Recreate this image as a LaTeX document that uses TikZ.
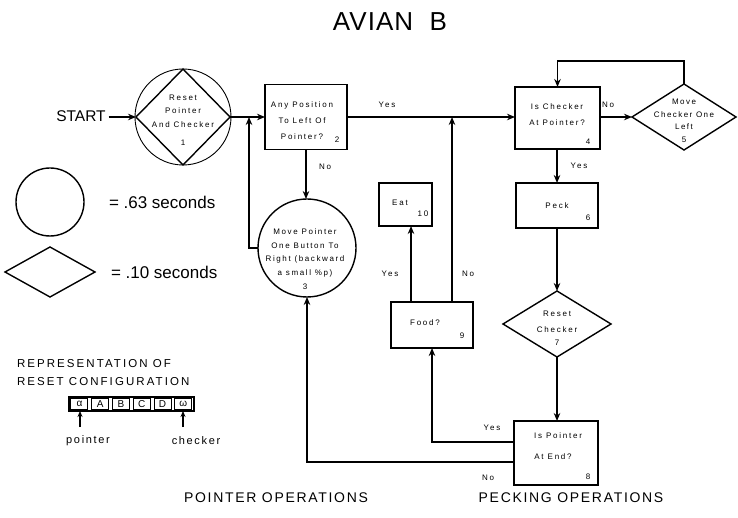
\documentclass[tikz,border=0pt]{standalone}
\usepackage{fontspec}
\usepackage{graphicx}
\setmainfont{Liberation Sans}
\usetikzlibrary{shapes.geometric,arrows.meta}
\begin{document}
\begin{tikzpicture}[x=1pt,y=-1pt,
  every node/.style={inner sep=0pt,outer sep=0pt},
  ln/.style={line width=1.4pt},
  arr/.style={ln,-{Stealth[length=8pt,width=6.5pt]}},
  sarr/.style={line width=1.1pt,-{Stealth[length=6pt,width=5pt]}},
  box/.style={draw,ln,rectangle},
  tx/.style={font=\fontsize{8}{14}\selectfont\addfontfeatures{LetterSpace=22},align=center},
  lb/.style={font=\fontsize{8}{9}\selectfont\addfontfeatures{LetterSpace=22}},
  lgt/.style={font=\fontsize{17}{20}\selectfont},
  capt/.style={font=\fontsize{11.5}{14}\selectfont\addfontfeatures{LetterSpace=18}},
  bot/.style={font=\fontsize{14}{16}\selectfont\addfontfeatures{LetterSpace=12}},
  cell/.style={draw,line width=1pt,minimum width=17pt,minimum height=11pt,font=\fontsize{10}{12}\selectfont}
]
\useasboundingbox (0,0) rectangle (738,518);

% title
\node[font=\fontsize{26}{30}\selectfont\addfontfeatures{LetterSpace=4}] (title) at (390,22) {AVIAN\ \ B};

% start and reset
\node[font=\fontsize{15.5}{18}\selectfont] (start) at (81,116) {START};
\node[circle,draw,line width=0.9pt,minimum size=96pt] (c1) at (183,117) {};
\node[diamond,draw,ln,minimum width=94pt,minimum height=96pt] (d1) at (183,117) {};
\node[tx,font=\fontsize{8}{13.5}\selectfont\addfontfeatures{LetterSpace=22}] (t1) at (183,111) {Reset\\Pointer\\And Checker};
\node[tx] (n1) at (183,143) {1};
\draw[arr] ([xshift=3pt]start.east |- d1.west) -- (d1.west);

% box 2
\node[box,minimum width=82pt,minimum height=65pt] (b2) at (306,117) {};
\node[tx,font=\fontsize{8}{16}\selectfont\addfontfeatures{LetterSpace=22}] (t2) at (302,121) {Any Position\\To Left Of\\Pointer?};
\node[tx] (n2) at (337,140) {2};
\coordinate (j1) at (249,117);
\draw[arr] (d1.east) -- (b2.west);

% circle 3
\node[circle,draw,ln,minimum size=98pt] (c3) at (307,248) {};
\node[tx,font=\fontsize{8}{13.8}\selectfont\addfontfeatures{LetterSpace=20}] (t3) at (305,259) {Move Pointer\\One Button To\\Right (backward\\a small \%p)\\3};
\draw[arr] (b2.south) -- (b2.south |- c3.north);
\node[lb] (no1) at (325,167) {No};
\draw[arr] (c3.west) -- (c3.west -| j1) -- (j1);

% box 4
\node[box,minimum width=85pt,minimum height=62pt] (b4) at (557.5,118) {};
\node[tx,font=\fontsize{8}{16}\selectfont\addfontfeatures{LetterSpace=22}] (t4) at (557,115) {Is Checker\\At Pointer?};
\node[tx] (n4) at (588,142) {4};
\draw[arr] (b2.east) -- (b2.east -| b4.west);
\node[lb] (yes1) at (387,105) {Yes};
\coordinate (j2) at (452,117);

% diamond 5
\node[diamond,draw,ln,minimum width=104pt,minimum height=66pt] (d5) at (684,117) {};
\node[tx,font=\fontsize{8}{12.5}\selectfont\addfontfeatures{LetterSpace=18}] (t5) at (684,121) {Move\\Checker One\\Left\\5};
\draw[arr] (b4.east |- d5.west) -- (d5.west);
\node[lb] (no2) at (608,105) {No};
\coordinate (tl) at (684,61);
\draw[arr] (d5.north) -- (tl) -| (b4.north);

% box 6
\node[box,minimum width=82pt,minimum height=45pt] (b6) at (557,205.5) {};
\node[tx] (t6) at (557,206) {Peck};
\node[tx] (n6) at (588,218) {6};
\draw[arr] (b4.south -| b6.north) -- (b6.north);
\node[lb] (yes2) at (579,166) {Yes};

% diamond 7
\node[diamond,draw,ln,minimum width=108pt,minimum height=66pt] (d7) at (557,324) {};
\node[tx,font=\fontsize{8}{16}\selectfont\addfontfeatures{LetterSpace=22}] (t7) at (557,322) {Reset\\Checker};
\node[tx] (n7) at (557,343) {7};
\draw[arr] (b6.south) -- (d7.north);

% box 8
\node[box,minimum width=84pt,minimum height=64pt] (b8) at (556,453) {};
\node[tx] (t8a) at (558,436) {Is Pointer};
\node[tx] (t8b) at (553,457) {At End?};
\node[tx] (n8) at (588,477) {8};
\draw[arr] (d7.south) -- (d7.south |- b8.north);

% box 9 food, box 10 eat
\node[box,minimum width=82pt,minimum height=46pt] (b9) at (432,325) {};
\node[tx] (t9) at (425,323) {Food?};
\node[tx] (n9) at (462,336) {9};
\node[box,minimum width=53pt,minimum height=43pt] (b10) at (405.5,204.5) {};
\node[tx] (t10) at (400,203) {Eat};
\node[tx] (n10) at (423,214) {10};

\draw[arr] ([yshift=11pt]b8.west) -| (b9.south);
\node[lb] (yes3) at (492,428) {Yes};
\draw[arr] ([yshift=-9pt]b8.west) -| (c3.south);
\node[lb] (no3) at (488,478) {No};
\draw[arr] ([xshift=-21pt]b9.north) -- ([xshift=-21pt]b9.north |- b10.south);
\node[lb] (yes4) at (390,274) {Yes};
\draw[arr] ([xshift=20pt]b9.north) -- ([xshift=20pt]b9.north |- j2);
\node[lb] (no4) at (468,274) {No};

% legend
\node[circle,draw,ln,minimum size=68pt] (lc) at (50,202) {};
\node[lgt,anchor=west] (lct) at (109,202) {= .63 seconds};
\node[diamond,draw,ln,minimum width=90pt,minimum height=50pt] (ld) at (50,272) {};
\node[lgt,anchor=west] (ldt) at (111,272) {= .10 seconds};

% reset configuration
\node[capt,anchor=west] (r1) at (17,364) {REPRESENTATION OF};
\node[capt,anchor=west] (r2) at (17,382) {RESET CONFIGURATION};
\node[draw,line width=1.1pt,minimum width=125pt,minimum height=14pt] (cfg) at (131.5,404) {};
\node[cell] (ca) at (79.4,404) {α};
\node[cell] (cA) at (100.2,404) {A};
\node[cell] (cB) at (121,404) {B};
\node[cell] (cC) at (141.8,404) {C};
\node[cell] (cD) at (162.6,404) {D};
\node[cell] (cw) at (183.4,404) {ω};
\coordinate (pa) at (80,427);
\coordinate (pw) at (183,427);
\draw[sarr] (pa) -- (pa |- cfg.south);
\draw[sarr] (pw) -- (pw |- cfg.south);
\node[font=\fontsize{11}{13}\selectfont\addfontfeatures{LetterSpace=15}] (pl) at (88,441) {pointer};
\node[font=\fontsize{11}{13}\selectfont\addfontfeatures{LetterSpace=15}] (cl) at (196,441) {checker};

% bottom labels
\node[bot] (po) at (276,498) {POINTER OPERATIONS};
\node[bot] (pe) at (571,498) {PECKING OPERATIONS};
\end{tikzpicture}
\end{document}
